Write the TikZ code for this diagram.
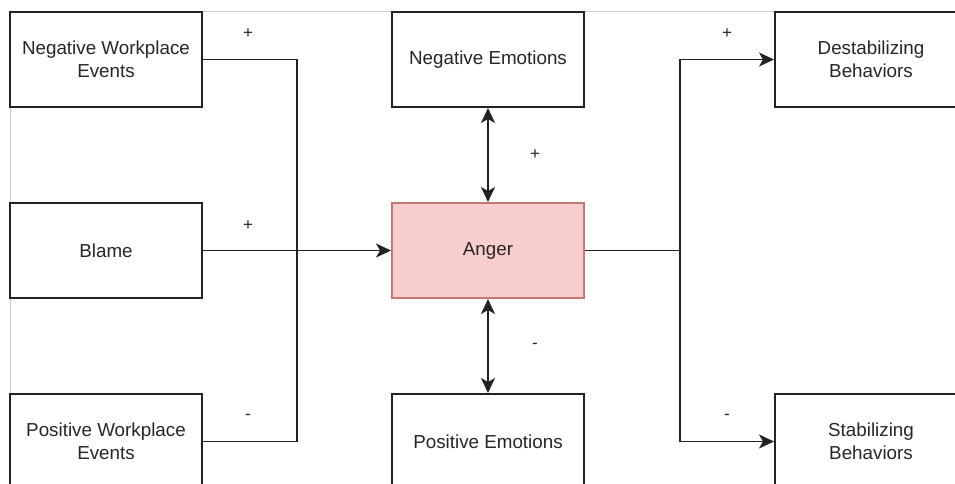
\documentclass[tikz,border=0pt]{standalone}
\usepackage{fontspec}
\setmainfont{Liberation Sans}
\usetikzlibrary{arrows.meta}
\definecolor{boxline}{HTML}{222222}
\definecolor{angerfill}{HTML}{F8CECC}
\definecolor{angerline}{HTML}{C97672}
\definecolor{frameline}{HTML}{CCCCCC}
\tikzset{
  factor/.style={draw=boxline, line width=2pt, fill=white, rectangle,
    minimum width=192pt, minimum height=95pt, inner sep=0pt, align=center,
    font=\fontsize{18.8pt}{22.5pt}\selectfont, text=black!85},
  link/.style={draw=boxline, line width=1.8pt},
  tip/.style={-{Stealth[length=15pt, width=14pt, inset=4pt]}},
  bitip/.style={{Stealth[length=15pt, width=14pt, inset=4pt]}-{Stealth[length=15pt, width=14pt, inset=4pt]}},
  sign/.style={font=\fontsize{17pt}{19pt}\selectfont, text=black!85}
}
\begin{document}
\begin{tikzpicture}[x=1pt, y=-1pt]
  \useasboundingbox (0,0) rectangle (955,483);
  \clip (0,0) rectangle (955,483);
  \fill[white] (0,0) rectangle (955,483);
  % page frame
  \draw[frameline, line width=1pt] (10,11) -- (955,11);
  \draw[frameline, line width=1pt] (10,11) -- (10,483);

  % boxes
  \node[factor] (nwe)   at (106,59.5)  {Negative Workplace\\Events};
  \node[factor] (blame) at (106,250.5) {Blame};
  \node[factor] (pwe)   at (106,441.5) {Positive Workplace\\Events};
  \node[factor] (ne)    at (488,59.5)  {Negative Emotions};
  \node[factor, fill=angerfill, draw=angerline] (anger) at (488,250.5) {Anger};
  \node[factor] (pe)    at (488,441.5) {Positive Emotions};
  \node[factor] (db)    at (871,59.5)  {Destabilizing\\Behaviors};
  \node[factor] (sb)    at (871,441.5) {Stabilizing\\Behaviors};

  % junctions
  \coordinate (jin)  at (297,250.5);
  \coordinate (jout) at (680,250.5);

  % inputs to anger
  \draw[link] (nwe.east) -| (jin);
  \draw[link] (pwe.east) -| (jin);
  \draw[link, tip] (blame.east) -- (anger.west);

  % emotions
  \draw[link, bitip] (ne.south) -- (anger.north);
  \draw[link, bitip] (pe.north) -- (anger.south);

  % outputs
  \draw[link] (anger.east) -- (jout);
  \draw[link, tip] (jout) |- (db.west);
  \draw[link, tip] (jout) |- (sb.west);

  % signs
  \node[sign] (s1) at (248,34)  {+};
  \node[sign] (s2) at (248,226) {+};
  \node[sign] (s3) at (248,417) {-};
  \node[sign] (s4) at (535,155) {+};
  \node[sign] (s5) at (535,346) {-};
  \node[sign] (s6) at (727,34)  {+};
  \node[sign] (s7) at (727,417) {-};
\end{tikzpicture}
\end{document}
